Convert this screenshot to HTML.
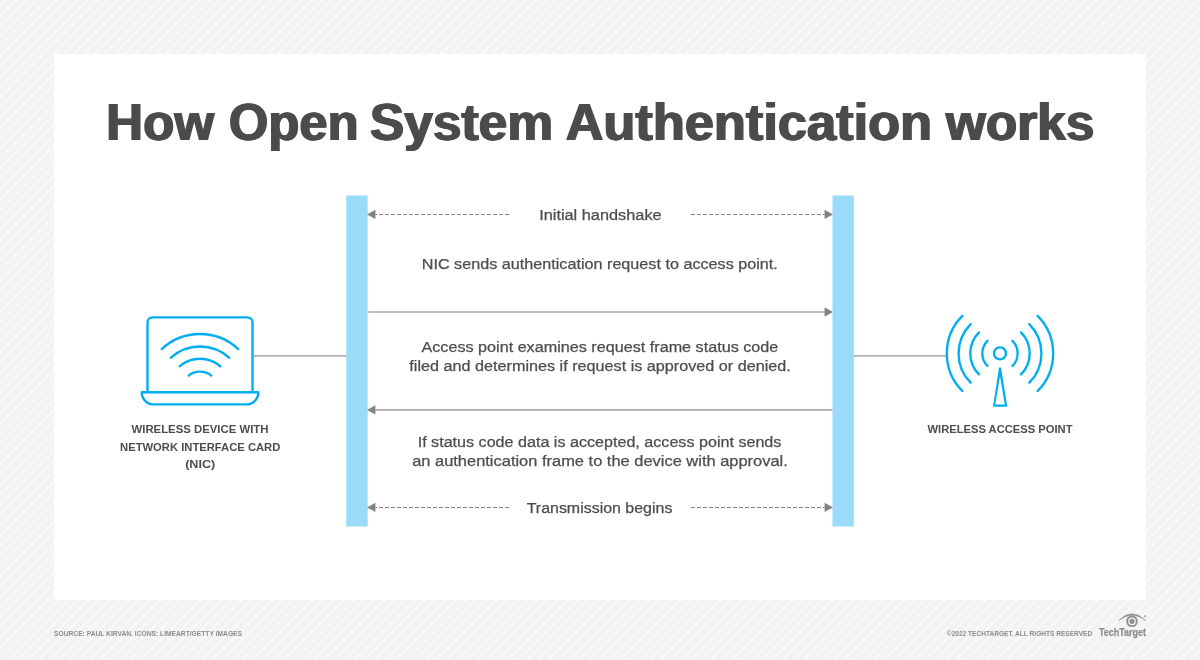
<!DOCTYPE html>
<html>
<head>
<meta charset="utf-8">
<title>How Open System Authentication works</title>
<style>
html,body{margin:0;padding:0;background:#f3f3f3;}
body{width:1200px;height:660px;overflow:hidden;font-family:"Liberation Sans",sans-serif;}
svg{display:block;position:absolute;left:0;top:0;will-change:transform;}
text{font-family:"Liberation Sans",sans-serif;}
.t{font-size:52px;font-weight:bold;fill:#4b4b4d;}
.b{font-size:15.2px;fill:#4d4d4f;stroke:#4d4d4f;stroke-width:0.25px;}
.l{font-size:11.3px;font-weight:bold;fill:#4d4d4f;}
.f{font-size:6.6px;font-weight:bold;fill:#8c8c8f;}
.ic{fill:none;stroke:#00aeef;stroke-width:2.35;stroke-linecap:round;stroke-linejoin:round;}
</style>
</head>
<body>
<svg width="1200" height="660" viewBox="0 0 1200 660">

<rect x="0" y="0" width="1200" height="660" fill="#f3f3f3"/>
<path d="M5.67,0.00L0.00,5.67M15.86,0.00L0.00,15.86M26.05,0.00L0.00,26.05M36.24,0.00L0.00,36.24M46.44,0.00L0.00,46.44M56.63,0.00L0.00,56.63M66.82,0.00L0.00,66.82M77.01,0.00L0.00,77.01M87.20,0.00L0.00,87.20M97.39,0.00L0.00,97.39M107.58,0.00L0.00,107.58M117.78,0.00L0.00,117.78M127.97,0.00L0.00,127.97M138.16,0.00L0.00,138.16M148.35,0.00L0.00,148.35M158.54,0.00L0.00,158.54M168.73,0.00L0.00,168.73M178.93,0.00L0.00,178.93M189.12,0.00L0.00,189.12M199.31,0.00L0.00,199.31M209.50,0.00L0.00,209.50M219.69,0.00L0.00,219.69M229.88,0.00L0.00,229.88M240.07,0.00L0.00,240.07M250.27,0.00L0.00,250.27M260.46,0.00L0.00,260.46M270.65,0.00L0.00,270.65M280.84,0.00L0.00,280.84M291.03,0.00L0.00,291.03M301.22,0.00L0.00,301.22M311.42,0.00L0.00,311.42M321.61,0.00L0.00,321.61M331.80,0.00L0.00,331.80M341.99,0.00L0.00,341.99M352.18,0.00L0.00,352.18M362.37,0.00L0.00,362.37M372.56,0.00L0.00,372.56M382.76,0.00L0.00,382.76M392.95,0.00L0.00,392.95M403.14,0.00L0.00,403.14M413.33,0.00L0.00,413.33M423.52,0.00L0.00,423.52M433.71,0.00L0.00,433.71M443.90,0.00L0.00,443.90M454.10,0.00L0.00,454.10M464.29,0.00L0.00,464.29M474.48,0.00L0.00,474.48M484.67,0.00L0.00,484.67M494.86,0.00L0.00,494.86M505.05,0.00L0.00,505.05M515.25,0.00L0.00,515.25M525.44,0.00L0.00,525.44M535.63,0.00L0.00,535.63M545.82,0.00L0.00,545.82M556.01,0.00L0.00,556.01M566.20,0.00L0.00,566.20M576.39,0.00L0.00,576.39M586.59,0.00L0.00,586.59M596.78,0.00L0.00,596.78M606.97,0.00L0.00,606.97M617.16,0.00L0.00,617.16M627.35,0.00L0.00,627.35M637.54,0.00L0.00,637.54M647.73,0.00L0.00,647.73M657.93,0.00L0.00,657.93M668.12,0.00L7.12,661.00M678.31,0.00L17.31,661.00M688.50,0.00L27.50,661.00M698.69,0.00L37.69,661.00M708.88,0.00L47.88,661.00M719.07,0.00L58.07,661.00M729.27,0.00L68.27,661.00M739.46,0.00L78.46,661.00M749.65,0.00L88.65,661.00M759.84,0.00L98.84,661.00M770.03,0.00L109.03,661.00M780.22,0.00L119.22,661.00M790.42,0.00L129.42,661.00M800.61,0.00L139.61,661.00M810.80,0.00L149.80,661.00M820.99,0.00L159.99,661.00M831.18,0.00L170.18,661.00M841.37,0.00L180.37,661.00M851.56,0.00L190.56,661.00M861.76,0.00L200.76,661.00M871.95,0.00L210.95,661.00M882.14,0.00L221.14,661.00M892.33,0.00L231.33,661.00M902.52,0.00L241.52,661.00M912.71,0.00L251.71,661.00M922.90,0.00L261.90,661.00M933.10,0.00L272.10,661.00M943.29,0.00L282.29,661.00M953.48,0.00L292.48,661.00M963.67,0.00L302.67,661.00M973.86,0.00L312.86,661.00M984.05,0.00L323.05,661.00M994.25,0.00L333.25,661.00M1004.44,0.00L343.44,661.00M1014.63,0.00L353.63,661.00M1024.82,0.00L363.82,661.00M1035.01,0.00L374.01,661.00M1045.20,0.00L384.20,661.00M1055.39,0.00L394.39,661.00M1065.59,0.00L404.59,661.00M1075.78,0.00L414.78,661.00M1085.97,0.00L424.97,661.00M1096.16,0.00L435.16,661.00M1106.35,0.00L445.35,661.00M1116.54,0.00L455.54,661.00M1126.74,0.00L465.74,661.00M1136.93,0.00L475.93,661.00M1147.12,0.00L486.12,661.00M1157.31,0.00L496.31,661.00M1167.50,0.00L506.50,661.00M1177.69,0.00L516.69,661.00M1187.88,0.00L526.88,661.00M1198.08,0.00L537.08,661.00M1201.00,7.27L547.27,661.00M1201.00,17.46L557.46,661.00M1201.00,27.65L567.65,661.00M1201.00,37.84L577.84,661.00M1201.00,48.03L588.03,661.00M1201.00,58.22L598.22,661.00M1201.00,68.42L608.42,661.00M1201.00,78.61L618.61,661.00M1201.00,88.80L628.80,661.00M1201.00,98.99L638.99,661.00M1201.00,109.18L649.18,661.00M1201.00,119.37L659.37,661.00M1201.00,129.57L669.57,661.00M1201.00,139.76L679.76,661.00M1201.00,149.95L689.95,661.00M1201.00,160.14L700.14,661.00M1201.00,170.33L710.33,661.00M1201.00,180.52L720.52,661.00M1201.00,190.71L730.71,661.00M1201.00,200.91L740.91,661.00M1201.00,211.10L751.10,661.00M1201.00,221.29L761.29,661.00M1201.00,231.48L771.48,661.00M1201.00,241.67L781.67,661.00M1201.00,251.86L791.86,661.00M1201.00,262.05L802.05,661.00M1201.00,272.25L812.25,661.00M1201.00,282.44L822.44,661.00M1201.00,292.63L832.63,661.00M1201.00,302.82L842.82,661.00M1201.00,313.01L853.01,661.00M1201.00,323.20L863.20,661.00M1201.00,333.39L873.39,661.00M1201.00,343.59L883.59,661.00M1201.00,353.78L893.78,661.00M1201.00,363.97L903.97,661.00M1201.00,374.16L914.16,661.00M1201.00,384.35L924.35,661.00M1201.00,394.54L934.54,661.00M1201.00,404.74L944.74,661.00M1201.00,414.93L954.93,661.00M1201.00,425.12L965.12,661.00M1201.00,435.31L975.31,661.00M1201.00,445.50L985.50,661.00M1201.00,455.69L995.69,661.00M1201.00,465.88L1005.88,661.00M1201.00,476.08L1016.08,661.00M1201.00,486.27L1026.27,661.00M1201.00,496.46L1036.46,661.00M1201.00,506.65L1046.65,661.00M1201.00,516.84L1056.84,661.00M1201.00,527.03L1067.03,661.00M1201.00,537.22L1077.22,661.00M1201.00,547.42L1087.42,661.00M1201.00,557.61L1097.61,661.00M1201.00,567.80L1107.80,661.00M1201.00,577.99L1117.99,661.00M1201.00,588.18L1128.18,661.00M1201.00,598.37L1138.37,661.00M1201.00,608.57L1148.57,661.00M1201.00,618.76L1158.76,661.00M1201.00,628.95L1168.95,661.00M1201.00,639.14L1179.14,661.00M1201.00,649.33L1189.33,661.00M1201.00,659.52L1199.52,661.00" stroke="#fdfdfd" stroke-width="1.1" fill="none"/>
<rect x="54" y="54" width="1092" height="546" fill="#ffffff"/>

<!-- title -->
<text id="ttl" class="t" y="140"><tspan x="106.2" textLength="107.9" lengthAdjust="spacingAndGlyphs">How</tspan><tspan x="228.9" textLength="129.7" lengthAdjust="spacingAndGlyphs">Open</tspan><tspan x="369.9" textLength="183.2" lengthAdjust="spacingAndGlyphs">System</tspan><tspan x="565.6" textLength="366.5" lengthAdjust="spacingAndGlyphs">Authentication</tspan><tspan x="945.9" textLength="148.5" lengthAdjust="spacingAndGlyphs">works</tspan></text>
<use href="#ttl" x="-0.9"/><use href="#ttl" x="0.9"/>

<!-- bars -->
<rect x="346.25" y="195.5" width="21.4" height="331" fill="#99dbf9"/>
<rect x="832.5" y="195.5" width="21.3" height="331" fill="#99dbf9"/>

<!-- connectors -->
<path d="M253.5,355.9 H346.3 M853.7,355.9 H946.3" stroke="#b1b3b5" stroke-width="1.6" fill="none"/>

<!-- solid arrows -->
<path d="M367.6,312 H825 M375.5,409.9 H832.5" stroke="#a9abae" stroke-width="1.6" fill="none"/>
<path d="M832.9,312 L824.6,307.3 V316.7 Z M367,409.9 L375.4,405.2 V414.6 Z" fill="#808285"/>

<!-- dashed arrows -->
<g stroke="#85878a" stroke-width="1.05" fill="none" stroke-dasharray="4 2">
<path d="M509,214.4 H375.4"/>
<path d="M691,214.4 H824.7"/>
<path d="M509,507.4 H375.4"/>
<path d="M691,507.4 H824.7"/>
</g>
<path d="M367,214.4 L375.4,209.7 V219.1 Z M832.9,214.4 L824.6,209.7 V219.1 Z M367,507.4 L375.4,502.7 V512.1 Z M832.9,507.4 L824.6,502.7 V512.1 Z" fill="#808285"/>

<!-- body text -->
<g lengthAdjust="spacingAndGlyphs">
<text class="b" x="600.4" y="219.6" text-anchor="middle" textLength="122.5" lengthAdjust="spacingAndGlyphs">Initial handshake</text>
<text class="b" x="599.8" y="268.8" text-anchor="middle" textLength="356.1" lengthAdjust="spacingAndGlyphs">NIC sends authentication request to access point.</text>
<text class="b" x="599.9" y="351.5" text-anchor="middle" textLength="356.9" lengthAdjust="spacingAndGlyphs">Access point examines request frame status code</text>
<text class="b" x="600.1" y="370.5" text-anchor="middle" textLength="381.5" lengthAdjust="spacingAndGlyphs">filed and determines if request is approved or denied.</text>
<text class="b" x="599.55" y="446.7" text-anchor="middle" textLength="363.7" lengthAdjust="spacingAndGlyphs">If status code data is accepted, access point sends</text>
<text class="b" x="600" y="465.8" text-anchor="middle" textLength="375.7" lengthAdjust="spacingAndGlyphs">an authentication frame to the device with approval.</text>
<text class="b" x="599.55" y="512.7" text-anchor="middle" textLength="145.7" lengthAdjust="spacingAndGlyphs">Transmission begins</text>
</g>

<!-- laptop -->
<g class="ic">
<path d="M147.5,392 V322.4 a5,5 0 0 1 5,-5 H247.5 a5,5 0 0 1 5,5 V392"/>
<path d="M141.7,392.2 H258.4 A12,12.2 0 0 1 246.4,404.4 H153.7 A12,12.2 0 0 1 141.7,392.2 Z"/>
<path d="M161.8,349.1 A56,56 0 0 1 238.2,349.1"/>
<path d="M170.7,357.8 A43.5,43.5 0 0 1 229.3,357.8"/>
<path d="M179.6,366.3 A31.3,31.3 0 0 1 220.4,366.3"/>
<path d="M188.6,375.6 A18.4,18.4 0 0 1 211.4,375.6"/>
</g>

<!-- access point -->
<g class="ic">
<circle cx="1000" cy="353.4" r="6"/>
<path d="M987.5,340.9 A17.7,17.7 0 0 0 987.5,365.9"/>
<path d="M979,332.4 A29.7,29.7 0 0 0 979,374.4"/>
<path d="M970.7,324.1 A41.5,41.5 0 0 0 970.7,382.7"/>
<path d="M962.4,315.8 A53.2,53.2 0 0 0 962.4,391"/>
<path d="M1012.5,340.9 A17.7,17.7 0 0 1 1012.5,365.9"/>
<path d="M1021,332.4 A29.7,29.7 0 0 1 1021,374.4"/>
<path d="M1029.3,324.1 A41.5,41.5 0 0 1 1029.3,382.7"/>
<path d="M1037.6,315.8 A53.2,53.2 0 0 1 1037.6,391"/>
<path d="M993,406.8 L998.9,368.2 Q1000,366.2 1001.1,368.2 L1007.3,406.8 Z M995.25,404.6 L1000,376.3 L1004.75,404.6 Z" fill="#00aeef" fill-rule="evenodd" stroke="none"/>
</g>

<!-- labels -->
<text class="l" x="200" y="433.4" text-anchor="middle" textLength="137" lengthAdjust="spacingAndGlyphs">WIRELESS DEVICE WITH</text>
<text class="l" x="200.2" y="450.8" text-anchor="middle" textLength="160.3" lengthAdjust="spacingAndGlyphs">NETWORK INTERFACE CARD</text>
<text class="l" x="200.2" y="467.6" text-anchor="middle" textLength="30" lengthAdjust="spacingAndGlyphs">(NIC)</text>
<text class="l" x="1000" y="433.4" text-anchor="middle" textLength="145" lengthAdjust="spacingAndGlyphs">WIRELESS ACCESS POINT</text>

<!-- footer -->
<text class="f" x="54" y="635.6" textLength="188" lengthAdjust="spacingAndGlyphs">SOURCE: PAUL KIRVAN. ICONS: LIMEART/GETTY IMAGES</text>
<text class="f" x="946.8" y="635.6" textLength="145.4" lengthAdjust="spacingAndGlyphs">©2022 TECHTARGET. ALL RIGHTS RESERVED</text>

<!-- TechTarget logo -->
<g fill="#8b8d92">
<circle cx="1132" cy="621.3" r="4.85" fill="none" stroke="#8b8d92" stroke-width="1.9"/>
<circle cx="1132" cy="621.3" r="2.6"/>
<circle cx="1132" cy="621.3" r="0.8" fill="#b4b5b9"/>
<path d="M1118.1,621 Q1132,606.4 1146.1,620.9 Q1132,609.9 1118.1,621 Z" stroke="#8b8d92" stroke-width="0.3" stroke-linejoin="round"/>
<circle cx="1144.9" cy="616.1" r="0.85"/>
<text x="1099" y="635.9" style="font-size:10.8px;font-weight:bold;" stroke="#8b8d92" stroke-width="0.25" textLength="47" lengthAdjust="spacingAndGlyphs">TechTarget</text>
</g>
</svg>
</body>
</html>
